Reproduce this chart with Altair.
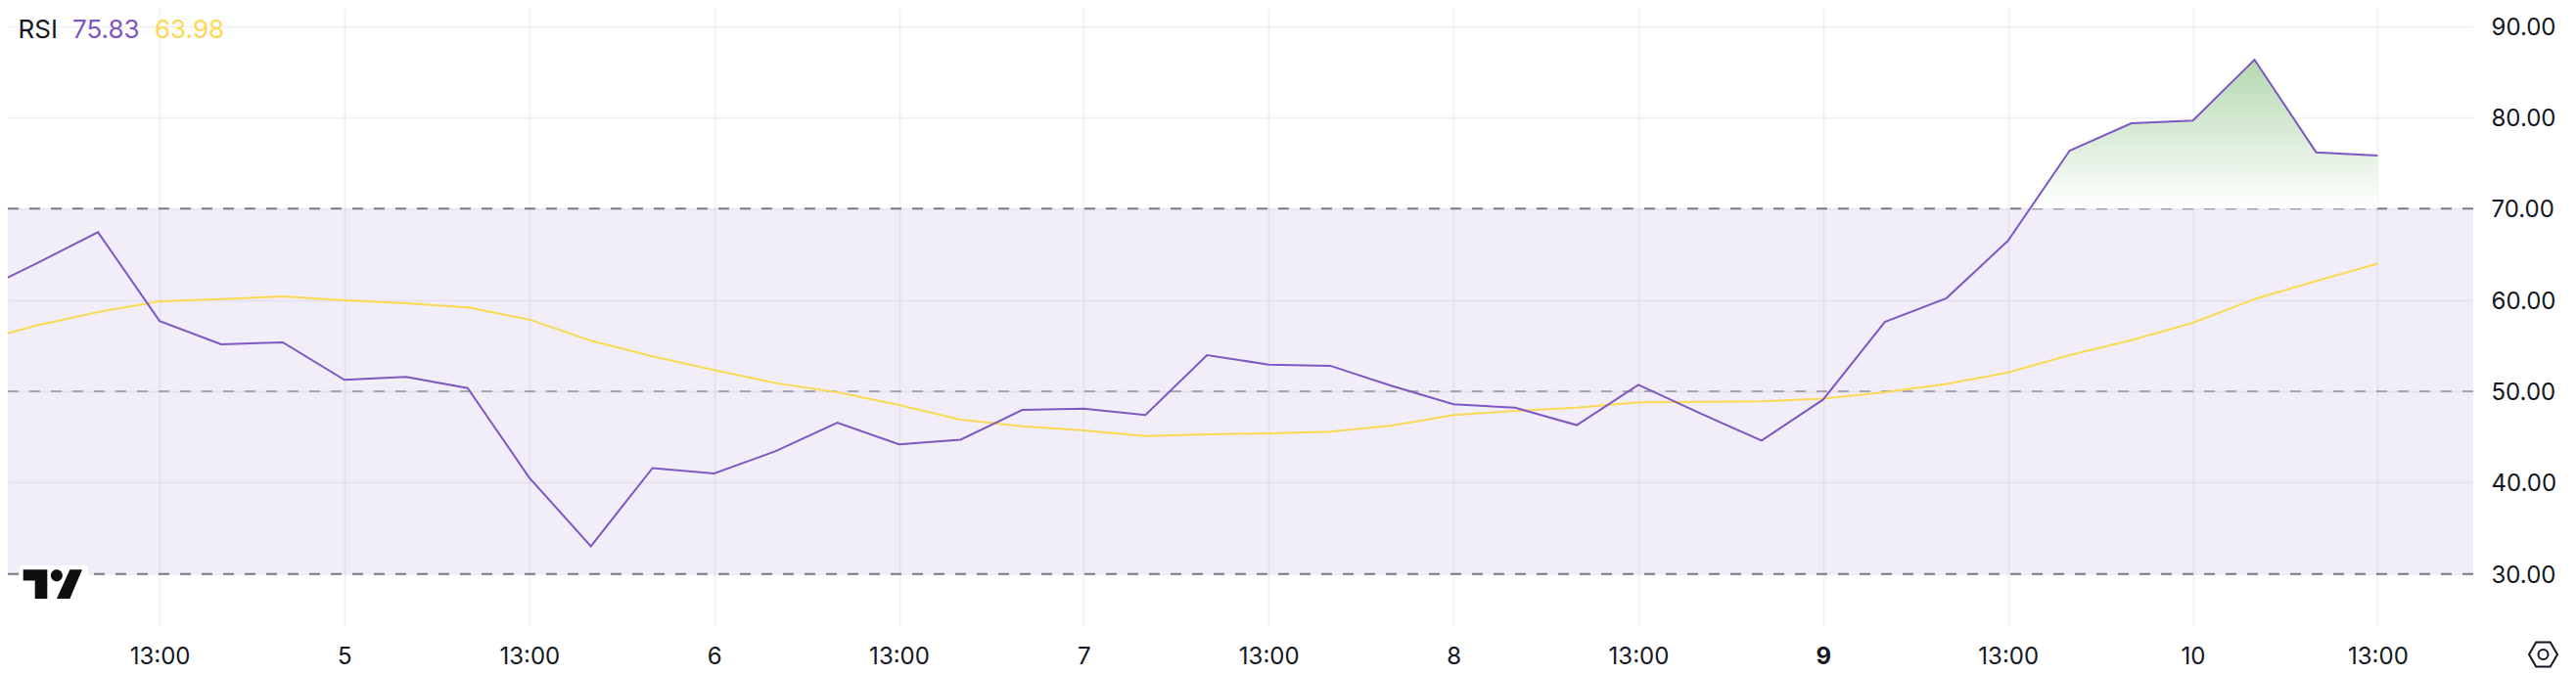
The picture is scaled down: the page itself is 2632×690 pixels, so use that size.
import json
import altair as alt
import pandas as pd

bars = list(range(-3, 37))
rsi = [60.7, 64.0, 67.43, 57.7, 55.15, 55.36, 51.25, 51.57, 50.36, 40.54, 33.04, 41.6, 41.0, 43.46, 46.57,
       44.2, 44.7, 47.96, 48.1, 47.4, 53.97, 52.93, 52.8, 50.6, 48.58, 48.2, 46.3, 50.72, 47.6, 44.6,
       49.1, 57.6, 60.2, 66.5, 76.36, 79.36, 79.65, 86.32, 76.18, 75.83]
rsi_ma = [55.4, 57.2, 58.68, 59.86, 60.1, 60.4, 59.97, 59.65, 59.18, 57.86, 55.54, 53.83, 52.33, 50.9, 49.9,
          48.5, 46.9, 46.18, 45.72, 45.1, 45.29, 45.4, 45.58, 46.25, 47.4, 47.86, 48.2, 48.8, 48.85, 48.9,
          49.2, 49.9, 50.8, 52.07, 53.97, 55.6, 57.5, 60.1, 62.08, 63.98]
over_x = [30.36, 31, 32, 33, 34, 35, 36]
over_y = [70, 76.36, 79.36, 79.65, 86.32, 76.18, 75.83]
tick_bars = [0, 3, 6, 9, 12, 15, 18, 21, 24, 27, 30, 33, 36]
tick_labels = ["13:00", "5", "13:00", "6", "13:00", "7", "13:00", "8", "13:00", "9", "13:00", "10", "13:00"]
y_ticks = [30, 40, 50, 60, 70, 80, 90]
bold_bar = 27
outer_levels = [30, 70]
middle_levels = [50]
band_low, band_high = [30], [70]
legend_texts = ["RSI", "75.83", "63.98"]

FONT = "Inter"
INK = "#131722"
PURPLE = "#7e57c2"
YELLOW = "#fbd952"
GREY = "#787b86"

W, H = 2519, 632
x_scale = alt.Scale(domain=[-2.463, 37.55], nice=False, zero=False)
y_scale = alt.Scale(domain=[24.29, 92.0], nice=False, zero=False)

label_map = "{" + ",".join(f"'{b}':{json.dumps(t)}" for b, t in zip(tick_bars, tick_labels)) + "}"
x_axis = alt.Axis(
    values=tick_bars, labelExpr=f"{label_map}[''+datum.value]", title=None, orient="bottom",
    domain=False, ticks=False, grid=True, gridColor="#2e2e2e", gridOpacity=0.06, gridWidth=2,
    labelFont=FONT, labelFontSize=24, labelColor=INK, labelPadding=19, labelOverlap=False, labelFlush=False,
    labelFontWeight={"condition": {"test": f"datum.value == {bold_bar}", "value": 700}, "value": 400},
)
y_axis = alt.Axis(
    values=y_ticks, format=".2f", title=None, orient="right",
    domain=False, ticks=False, grid=True, gridColor="#2e2e2e", gridOpacity=0.06, gridWidth=2,
    labelFont=FONT, labelFontSize=24, labelColor=INK, labelPadding=18, labelOffset=1.5, labelOverlap=False,
)

series = pd.DataFrame({"bar": bars, "rsi": rsi, "ma": rsi_ma})
over = pd.DataFrame({"bar": over_x, "value": over_y, "base": [70] * len(over_x)})

band = alt.Chart(pd.DataFrame({"low": band_low, "high": band_high})).mark_rect(
    color=PURPLE, opacity=0.1
).encode(
    y=alt.Y("low:Q", scale=y_scale, axis=y_axis),
    y2="high:Q",
    x=alt.value(0), x2=alt.value(W),
)
gridx = alt.Chart(series).mark_line(opacity=0).encode(
    x=alt.X("bar:Q", scale=x_scale, axis=x_axis),
    y=alt.Y("rsi:Q", scale=y_scale),
)
outer = alt.Chart(pd.DataFrame({"v": outer_levels})).mark_rule(
    color=GREY, strokeWidth=2, strokeDash=[11, 11]
).encode(y=alt.Y("v:Q", scale=y_scale))
middle = alt.Chart(pd.DataFrame({"v": middle_levels})).mark_rule(
    color=GREY, opacity=0.6, strokeWidth=2, strokeDash=[11, 11]
).encode(y=alt.Y("v:Q", scale=y_scale))

gradient = alt.Gradient(
    gradient="linear", x1=0, y1=0, x2=0, y2=1,
    stops=[alt.GradientStop(offset=0, color="#b4d8b0"), alt.GradientStop(offset=1, color="#ffffff")],
)
area = alt.Chart(over).mark_area(fill=gradient, line=False).encode(
    x=alt.X("bar:Q", scale=x_scale),
    y=alt.Y("value:Q", scale=y_scale),
    y2="base:Q",
)
ma_line = alt.Chart(series).mark_line(color=YELLOW, strokeWidth=2, clip=True, strokeJoin="miter").encode(
    x=alt.X("bar:Q", scale=x_scale), y=alt.Y("ma:Q", scale=y_scale)
)
rsi_line = alt.Chart(series).mark_line(color=PURPLE, strokeWidth=2, clip=True, strokeJoin="miter").encode(
    x=alt.X("bar:Q", scale=x_scale), y=alt.Y("rsi:Q", scale=y_scale)
)


def legend(text, color, px):
    return alt.Chart(pd.DataFrame({"t": [text]})).mark_text(
        font=FONT, fontSize=26, color=color, align="left", baseline="alphabetic"
    ).encode(text="t:N", x=alt.value(px), y=alt.value(30.7))


legends = [legend(t, c, p) for t, c, p in zip(legend_texts, [INK, PURPLE, YELLOW], [10.6, 66, 150])]

one = pd.DataFrame({"k": [1]})
logo_mask = alt.Chart(one).mark_rect(color="#ffffff").encode(
    x=alt.value(12), x2=alt.value(82), y=alt.value(570), y2=alt.value(604)
)
logo_path = (
    "M-1.01 -0.49L-0.19 -0.49L-0.19 0.5L-0.61 0.5L-0.61 -0.12L-1.01 -0.12Z"
    "M0.58 -0.49L1 -0.49L0.58 0.5L0.13 0.5Z"
    "M-0.07 -0.29A0.2 0.2 0 1 0 0.33 -0.29A0.2 0.2 0 1 0 -0.07 -0.29Z"
)
logo = alt.Chart(one).mark_point(
    shape=logo_path, size=3600, filled=True, fill="#0f0f0f", opacity=1, strokeWidth=0
).encode(x=alt.value(46), y=alt.value(589))
hex_path = "M-0.5 -0.86L0.5 -0.86L1 0L0.5 0.86L-0.5 0.86L-1 0Z"
hexagon = alt.Chart(one).mark_point(
    shape=hex_path, size=841, filled=False, stroke=INK, opacity=1, strokeWidth=2
).encode(x=alt.value(2590.5), y=alt.value(661))
hex_dot = alt.Chart(one).mark_point(
    shape="circle", size=100, filled=False, stroke=INK, opacity=1, strokeWidth=2
).encode(x=alt.value(2590.5), y=alt.value(661))

chart = alt.layer(
    gridx, band, outer, middle, area, ma_line, rsi_line, *legends, logo_mask, logo, hexagon, hex_dot
).properties(
    width=W, height=H, background="#ffffff",
    padding={"left": 0, "top": 0, "right": 97, "bottom": 48},
    autosize=alt.AutoSizeParams(type="none"),
).configure_view(stroke=None)

chart.save("out.html", embed_options={"renderer": "svg", "actions": False})
